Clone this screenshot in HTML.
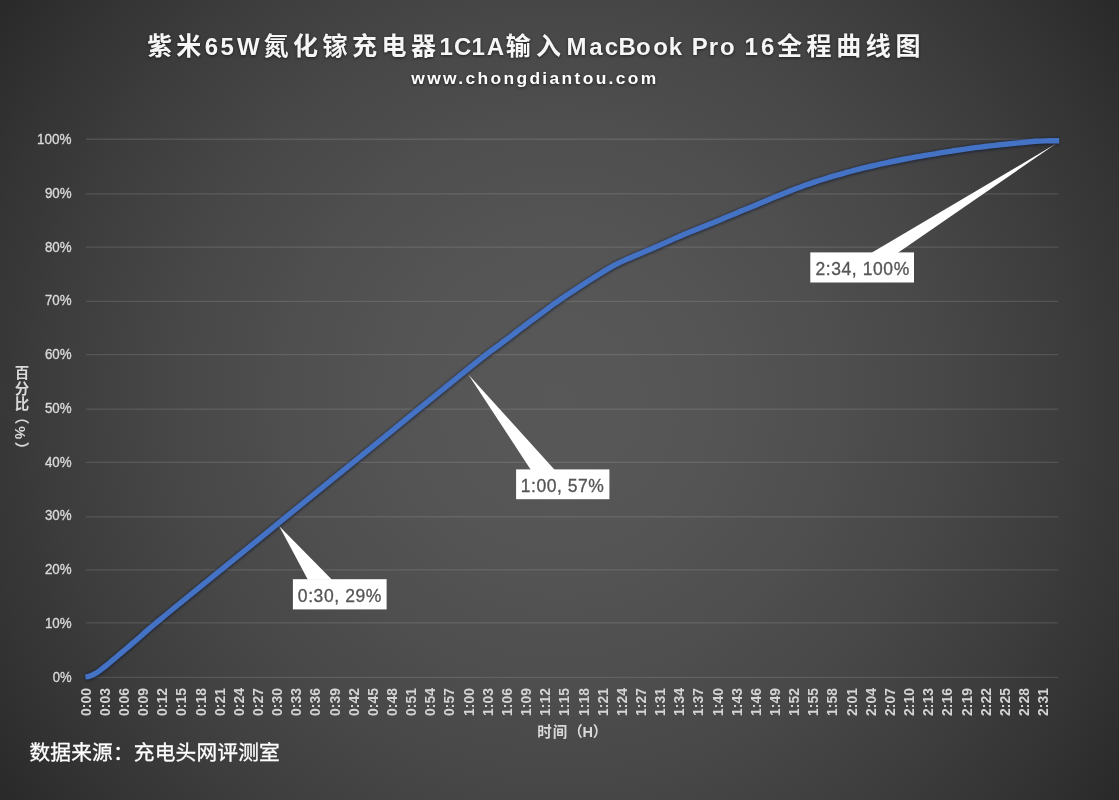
<!DOCTYPE html>
<html lang="zh-CN"><head><meta charset="utf-8">
<title>紫米65W氮化镓充电器1C1A输入MacBook Pro 16全程曲线图</title>
<style>
html,body{margin:0;padding:0;background:#292929;}
body{width:1119px;height:800px;overflow:hidden;position:relative;font-family:"Liberation Sans","Noto Sans CJK SC",sans-serif;}
#chart{position:absolute;left:0;top:0;width:1119px;height:800px;overflow:hidden;background:radial-gradient(circle 688px at 559.5px 400px, #585858 0%, #575757 5%, #575757 10%, #565656 15%, #555555 20%, #545454 25%, #525252 30%, #505050 35%, #4f4f4f 40%, #4c4c4c 45%, #4a4a4a 50%, #484848 55%, #454545 60%, #424242 65%, #3f3f3f 70%, #3c3c3c 75%, #383838 80%, #353535 85%, #313131 90%, #2d2d2d 95%, #292929 100%);}
svg{position:absolute;left:0;top:0;display:block;}
text{font-family:"Liberation Sans","Noto Sans CJK SC",sans-serif;white-space:pre;}
.grid line{stroke:#f2f2f2;stroke-opacity:0.13;stroke-width:1.3;}
.ylab text{fill:#d9d9d9;stroke:#d9d9d9;stroke-width:0.35px;font-size:14.3px;text-anchor:end;}
.xlab text{fill:#d4d4d4;font-size:14.4px;font-weight:bold;}
.axt{fill:#d9d9d9;font-weight:bold;font-size:14.5px;}
.title{fill:#f6f6f6;font-weight:bold;}
.title .c{font-size:25px;}
.title .l{font-size:24px;}
.sub{fill:#fff;font-weight:bold;font-size:17.4px;letter-spacing:2.35px;}
.sh{filter:drop-shadow(0px 1.6px 1.4px rgba(0,0,0,0.55));}
.halo{fill:none;stroke:#0a1430;stroke-opacity:0.5;stroke-width:7.6;stroke-linejoin:round;filter:blur(1.0px);}
.ln{fill:none;stroke:#4472c4;stroke-width:5.4;stroke-linejoin:round;stroke-linecap:butt;}
.co rect,.co polygon{fill:#fff;}
.co text{fill:#545454;stroke:#545454;stroke-width:0.3px;font-size:17.5px;}
.src{fill:#fff;stroke:#fff;stroke-width:0.3px;font-size:20.7px;letter-spacing:0.18px;}
.yt{writing-mode:vertical-rl;text-orientation:mixed;fill:#d9d9d9;font-weight:bold;font-size:14.5px;letter-spacing:1.2px;}
</style></head><body>
<div id="chart">
<svg width="1119" height="800" viewBox="0 0 1119 800">
<g class="grid">
<line x1="86.0" y1="677.40" x2="1058.3" y2="677.40"/>
<line x1="86.0" y1="622.95" x2="1058.3" y2="622.95"/>
<line x1="86.0" y1="569.95" x2="1058.3" y2="569.95"/>
<line x1="86.0" y1="516.80" x2="1058.3" y2="516.80"/>
<line x1="86.0" y1="462.40" x2="1058.3" y2="462.40"/>
<line x1="86.0" y1="409.05" x2="1058.3" y2="409.05"/>
<line x1="86.0" y1="354.70" x2="1058.3" y2="354.70"/>
<line x1="86.0" y1="301.40" x2="1058.3" y2="301.40"/>
<line x1="86.0" y1="247.10" x2="1058.3" y2="247.10"/>
<line x1="86.0" y1="193.80" x2="1058.3" y2="193.80"/>
<line x1="86.0" y1="139.25" x2="1058.3" y2="139.25"/>
</g>
<g class="ylab">
<text x="71.6" y="681.6" textLength="18.9" lengthAdjust="spacingAndGlyphs">0%</text>
<text x="71.6" y="627.9" textLength="26.7" lengthAdjust="spacingAndGlyphs">10%</text>
<text x="71.6" y="574.1" textLength="26.7" lengthAdjust="spacingAndGlyphs">20%</text>
<text x="71.6" y="520.4" textLength="26.7" lengthAdjust="spacingAndGlyphs">30%</text>
<text x="71.6" y="466.6" textLength="26.7" lengthAdjust="spacingAndGlyphs">40%</text>
<text x="71.6" y="412.9" textLength="26.7" lengthAdjust="spacingAndGlyphs">50%</text>
<text x="71.6" y="359.1" textLength="26.7" lengthAdjust="spacingAndGlyphs">60%</text>
<text x="71.6" y="305.4" textLength="26.7" lengthAdjust="spacingAndGlyphs">70%</text>
<text x="71.6" y="251.6" textLength="26.7" lengthAdjust="spacingAndGlyphs">80%</text>
<text x="71.6" y="197.9" textLength="26.7" lengthAdjust="spacingAndGlyphs">90%</text>
<text x="71.6" y="144.1" textLength="34.5" lengthAdjust="spacingAndGlyphs">100%</text>
</g>
<g class="xlab">
<text transform="translate(90.60 715.9) rotate(-90)" textLength="27.8" lengthAdjust="spacingAndGlyphs">0:00</text>
<text transform="translate(109.75 715.9) rotate(-90)" textLength="27.8" lengthAdjust="spacingAndGlyphs">0:03</text>
<text transform="translate(128.90 715.9) rotate(-90)" textLength="27.8" lengthAdjust="spacingAndGlyphs">0:06</text>
<text transform="translate(148.05 715.9) rotate(-90)" textLength="27.8" lengthAdjust="spacingAndGlyphs">0:09</text>
<text transform="translate(167.20 715.9) rotate(-90)" textLength="27.8" lengthAdjust="spacingAndGlyphs">0:12</text>
<text transform="translate(186.35 715.9) rotate(-90)" textLength="27.8" lengthAdjust="spacingAndGlyphs">0:15</text>
<text transform="translate(205.50 715.9) rotate(-90)" textLength="27.8" lengthAdjust="spacingAndGlyphs">0:18</text>
<text transform="translate(224.65 715.9) rotate(-90)" textLength="27.8" lengthAdjust="spacingAndGlyphs">0:21</text>
<text transform="translate(243.80 715.9) rotate(-90)" textLength="27.8" lengthAdjust="spacingAndGlyphs">0:24</text>
<text transform="translate(262.95 715.9) rotate(-90)" textLength="27.8" lengthAdjust="spacingAndGlyphs">0:27</text>
<text transform="translate(282.10 715.9) rotate(-90)" textLength="27.8" lengthAdjust="spacingAndGlyphs">0:30</text>
<text transform="translate(301.25 715.9) rotate(-90)" textLength="27.8" lengthAdjust="spacingAndGlyphs">0:33</text>
<text transform="translate(320.40 715.9) rotate(-90)" textLength="27.8" lengthAdjust="spacingAndGlyphs">0:36</text>
<text transform="translate(339.55 715.9) rotate(-90)" textLength="27.8" lengthAdjust="spacingAndGlyphs">0:39</text>
<text transform="translate(358.70 715.9) rotate(-90)" textLength="27.8" lengthAdjust="spacingAndGlyphs">0:42</text>
<text transform="translate(377.85 715.9) rotate(-90)" textLength="27.8" lengthAdjust="spacingAndGlyphs">0:45</text>
<text transform="translate(397.00 715.9) rotate(-90)" textLength="27.8" lengthAdjust="spacingAndGlyphs">0:48</text>
<text transform="translate(416.15 715.9) rotate(-90)" textLength="27.8" lengthAdjust="spacingAndGlyphs">0:51</text>
<text transform="translate(435.30 715.9) rotate(-90)" textLength="27.8" lengthAdjust="spacingAndGlyphs">0:54</text>
<text transform="translate(454.45 715.9) rotate(-90)" textLength="27.8" lengthAdjust="spacingAndGlyphs">0:57</text>
<text transform="translate(473.60 715.9) rotate(-90)" textLength="27.8" lengthAdjust="spacingAndGlyphs">1:00</text>
<text transform="translate(492.75 715.9) rotate(-90)" textLength="27.8" lengthAdjust="spacingAndGlyphs">1:03</text>
<text transform="translate(511.90 715.9) rotate(-90)" textLength="27.8" lengthAdjust="spacingAndGlyphs">1:06</text>
<text transform="translate(531.05 715.9) rotate(-90)" textLength="27.8" lengthAdjust="spacingAndGlyphs">1:09</text>
<text transform="translate(550.20 715.9) rotate(-90)" textLength="27.8" lengthAdjust="spacingAndGlyphs">1:12</text>
<text transform="translate(569.35 715.9) rotate(-90)" textLength="27.8" lengthAdjust="spacingAndGlyphs">1:15</text>
<text transform="translate(588.50 715.9) rotate(-90)" textLength="27.8" lengthAdjust="spacingAndGlyphs">1:18</text>
<text transform="translate(607.65 715.9) rotate(-90)" textLength="27.8" lengthAdjust="spacingAndGlyphs">1:21</text>
<text transform="translate(626.80 715.9) rotate(-90)" textLength="27.8" lengthAdjust="spacingAndGlyphs">1:24</text>
<text transform="translate(645.95 715.9) rotate(-90)" textLength="27.8" lengthAdjust="spacingAndGlyphs">1:27</text>
<text transform="translate(665.10 715.9) rotate(-90)" textLength="27.8" lengthAdjust="spacingAndGlyphs">1:31</text>
<text transform="translate(684.25 715.9) rotate(-90)" textLength="27.8" lengthAdjust="spacingAndGlyphs">1:34</text>
<text transform="translate(703.40 715.9) rotate(-90)" textLength="27.8" lengthAdjust="spacingAndGlyphs">1:37</text>
<text transform="translate(722.55 715.9) rotate(-90)" textLength="27.8" lengthAdjust="spacingAndGlyphs">1:40</text>
<text transform="translate(741.70 715.9) rotate(-90)" textLength="27.8" lengthAdjust="spacingAndGlyphs">1:43</text>
<text transform="translate(760.85 715.9) rotate(-90)" textLength="27.8" lengthAdjust="spacingAndGlyphs">1:46</text>
<text transform="translate(780.00 715.9) rotate(-90)" textLength="27.8" lengthAdjust="spacingAndGlyphs">1:49</text>
<text transform="translate(799.15 715.9) rotate(-90)" textLength="27.8" lengthAdjust="spacingAndGlyphs">1:52</text>
<text transform="translate(818.30 715.9) rotate(-90)" textLength="27.8" lengthAdjust="spacingAndGlyphs">1:55</text>
<text transform="translate(837.45 715.9) rotate(-90)" textLength="27.8" lengthAdjust="spacingAndGlyphs">1:58</text>
<text transform="translate(856.60 715.9) rotate(-90)" textLength="27.8" lengthAdjust="spacingAndGlyphs">2:01</text>
<text transform="translate(875.75 715.9) rotate(-90)" textLength="27.8" lengthAdjust="spacingAndGlyphs">2:04</text>
<text transform="translate(894.90 715.9) rotate(-90)" textLength="27.8" lengthAdjust="spacingAndGlyphs">2:07</text>
<text transform="translate(914.05 715.9) rotate(-90)" textLength="27.8" lengthAdjust="spacingAndGlyphs">2:10</text>
<text transform="translate(933.20 715.9) rotate(-90)" textLength="27.8" lengthAdjust="spacingAndGlyphs">2:13</text>
<text transform="translate(952.35 715.9) rotate(-90)" textLength="27.8" lengthAdjust="spacingAndGlyphs">2:16</text>
<text transform="translate(971.50 715.9) rotate(-90)" textLength="27.8" lengthAdjust="spacingAndGlyphs">2:19</text>
<text transform="translate(990.65 715.9) rotate(-90)" textLength="27.8" lengthAdjust="spacingAndGlyphs">2:22</text>
<text transform="translate(1009.80 715.9) rotate(-90)" textLength="27.8" lengthAdjust="spacingAndGlyphs">2:25</text>
<text transform="translate(1028.95 715.9) rotate(-90)" textLength="27.8" lengthAdjust="spacingAndGlyphs">2:28</text>
<text transform="translate(1048.10 715.9) rotate(-90)" textLength="27.8" lengthAdjust="spacingAndGlyphs">2:31</text>
</g>
<path class="halo" transform="translate(0 0.6)" d="M85.4 676.9 L88.0 676.6 L91.0 675.6 L94.0 674.2 L97.0 672.6 L101.0 669.6 L105.0 666.5 L109.0 663.3 L113.0 659.9 L117.0 656.5 L121.0 653.2 L125.0 649.8 L129.0 646.4 L133.0 642.9 L137.0 639.5 L141.0 635.9 L145.0 632.4 L149.0 628.9 L153.0 625.5 L157.0 622.1 L161.0 618.8 L165.0 615.5 L195.5 590.6 L226.0 565.9 L256.5 541.1 L287.0 516.2 L317.5 491.4 L348.0 466.6 L378.5 441.8 L409.0 416.9 L439.5 392.1 L470.0 367.3 L475.0 363.3 L480.0 359.4 L485.0 355.5 L490.0 351.7 L495.0 348.0 L500.0 344.3 L505.0 340.5 L510.0 336.8 L515.0 333.0 L520.0 329.2 L525.0 325.5 L530.0 321.7 L535.0 318.0 L540.0 314.3 L545.0 310.6 L550.0 306.9 L555.0 303.2 L560.0 299.7 L565.0 296.3 L570.0 293.0 L575.0 289.8 L580.0 286.5 L585.0 283.2 L590.0 280.0 L595.0 276.9 L600.0 273.7 L605.0 270.6 L610.0 267.6 L615.0 264.9 L620.0 262.4 L625.0 260.1 L630.0 258.0 L635.0 255.8 L640.0 253.7 L645.0 251.5 L650.0 249.4 L655.0 247.3 L660.0 245.1 L665.0 242.9 L670.0 240.6 L675.0 238.4 L680.0 236.2 L685.0 234.1 L690.0 232.0 L695.0 230.0 L700.0 228.0 L705.0 226.0 L710.0 224.0 L715.0 221.9 L720.0 219.9 L725.0 217.8 L730.0 215.8 L735.0 213.7 L740.0 211.6 L745.0 209.6 L750.0 207.5 L755.0 205.4 L760.0 203.3 L765.0 201.2 L770.0 199.0 L775.0 196.9 L780.0 194.9 L785.0 192.9 L790.0 191.0 L795.0 189.1 L800.0 187.2 L805.0 185.3 L810.0 183.6 L815.0 181.9 L820.0 180.3 L825.0 178.7 L830.0 177.2 L835.0 175.7 L840.0 174.3 L845.0 172.9 L850.0 171.5 L855.0 170.2 L860.0 168.9 L865.0 167.7 L870.0 166.5 L875.0 165.3 L880.0 164.2 L885.0 163.1 L890.0 162.0 L895.0 161.0 L900.0 160.0 L905.0 159.0 L910.0 158.1 L915.0 157.2 L920.0 156.3 L925.0 155.4 L930.0 154.6 L935.0 153.8 L940.0 152.9 L945.0 152.1 L950.0 151.3 L955.0 150.5 L960.0 149.8 L965.0 149.1 L970.0 148.4 L975.0 147.7 L980.0 147.1 L985.0 146.5 L990.0 145.9 L995.0 145.4 L1000.0 144.8 L1005.0 144.3 L1010.0 143.8 L1015.0 143.2 L1020.0 142.7 L1025.0 142.2 L1030.0 141.7 L1035.0 141.3 L1040.0 141.1 L1045.0 140.9 L1050.0 140.8 L1055.0 140.8 L1059.2 140.8"/>
<path class="ln" d="M85.4 676.9 L88.0 676.6 L91.0 675.6 L94.0 674.2 L97.0 672.6 L101.0 669.6 L105.0 666.5 L109.0 663.3 L113.0 659.9 L117.0 656.5 L121.0 653.2 L125.0 649.8 L129.0 646.4 L133.0 642.9 L137.0 639.5 L141.0 635.9 L145.0 632.4 L149.0 628.9 L153.0 625.5 L157.0 622.1 L161.0 618.8 L165.0 615.5 L195.5 590.6 L226.0 565.9 L256.5 541.1 L287.0 516.2 L317.5 491.4 L348.0 466.6 L378.5 441.8 L409.0 416.9 L439.5 392.1 L470.0 367.3 L475.0 363.3 L480.0 359.4 L485.0 355.5 L490.0 351.7 L495.0 348.0 L500.0 344.3 L505.0 340.5 L510.0 336.8 L515.0 333.0 L520.0 329.2 L525.0 325.5 L530.0 321.7 L535.0 318.0 L540.0 314.3 L545.0 310.6 L550.0 306.9 L555.0 303.2 L560.0 299.7 L565.0 296.3 L570.0 293.0 L575.0 289.8 L580.0 286.5 L585.0 283.2 L590.0 280.0 L595.0 276.9 L600.0 273.7 L605.0 270.6 L610.0 267.6 L615.0 264.9 L620.0 262.4 L625.0 260.1 L630.0 258.0 L635.0 255.8 L640.0 253.7 L645.0 251.5 L650.0 249.4 L655.0 247.3 L660.0 245.1 L665.0 242.9 L670.0 240.6 L675.0 238.4 L680.0 236.2 L685.0 234.1 L690.0 232.0 L695.0 230.0 L700.0 228.0 L705.0 226.0 L710.0 224.0 L715.0 221.9 L720.0 219.9 L725.0 217.8 L730.0 215.8 L735.0 213.7 L740.0 211.6 L745.0 209.6 L750.0 207.5 L755.0 205.4 L760.0 203.3 L765.0 201.2 L770.0 199.0 L775.0 196.9 L780.0 194.9 L785.0 192.9 L790.0 191.0 L795.0 189.1 L800.0 187.2 L805.0 185.3 L810.0 183.6 L815.0 181.9 L820.0 180.3 L825.0 178.7 L830.0 177.2 L835.0 175.7 L840.0 174.3 L845.0 172.9 L850.0 171.5 L855.0 170.2 L860.0 168.9 L865.0 167.7 L870.0 166.5 L875.0 165.3 L880.0 164.2 L885.0 163.1 L890.0 162.0 L895.0 161.0 L900.0 160.0 L905.0 159.0 L910.0 158.1 L915.0 157.2 L920.0 156.3 L925.0 155.4 L930.0 154.6 L935.0 153.8 L940.0 152.9 L945.0 152.1 L950.0 151.3 L955.0 150.5 L960.0 149.8 L965.0 149.1 L970.0 148.4 L975.0 147.7 L980.0 147.1 L985.0 146.5 L990.0 145.9 L995.0 145.4 L1000.0 144.8 L1005.0 144.3 L1010.0 143.8 L1015.0 143.2 L1020.0 142.7 L1025.0 142.2 L1030.0 141.7 L1035.0 141.3 L1040.0 141.1 L1045.0 140.9 L1050.0 140.8 L1055.0 140.8 L1059.2 140.8"/>
<g class="co">
<polygon points="307.9,579.7 279.3,526.3 332.0,579.7"/>
<rect x="292.9" y="579.2" width="93.7" height="30.2"/>
<text x="297.85" y="601.5" style="letter-spacing:0.59px">0:30, 29%</text>
</g>
<g class="co">
<polygon points="530.9,469.9 468.3,374.4 554.8,469.9"/>
<rect x="516.1" y="469.4" width="93.3" height="29.8"/>
<text x="520.75" y="491.5" style="letter-spacing:0.53px">1:00, 57%</text>
</g>
<g class="co">
<polygon points="871.2,252.9 1056.3,143.6 897.6,252.9"/>
<rect x="810.3" y="252.4" width="103.7" height="30.1"/>
<text x="815.45" y="274.7" style="letter-spacing:0.58px">2:34, 100%</text>
</g>
<g class="sh">
<text class="title" y="54.5"><tspan class="c" x="147.25" y="55.2" style="letter-spacing:4.05px">紫米</tspan><tspan class="l" x="204.72 220.55 236.98" y="54.5">65W</tspan><tspan class="c" x="263.45" y="55.2" style="letter-spacing:4.53px">氮化镓充电器</tspan><tspan class="l" x="439.38 453.92 471.38 486.68" y="54.5">1C1A</tspan><tspan class="c" x="505.85" y="55.2" style="letter-spacing:5.25px">输入</tspan><tspan class="l" x="566.45 589.33 604.75 618.52 636.02 653.17 668.80" y="54.5">MacBook </tspan><tspan class="l" x="691.72 708.85 719.98" y="54.5">Pro </tspan><tspan class="l" x="744.48 761.08" y="54.5">16</tspan><tspan class="c" x="777.00" y="55.2" style="letter-spacing:4.61px">全程曲线图</tspan></text>
<text class="sub" x="411.3" y="83.9">www.chongdiantou.com</text>
</g>
<text class="axt" x="537.3" y="737.3"><tspan style="letter-spacing:1px">时间</tspan><tspan style="letter-spacing:-0.29px">（H</tspan>）</text>
<text class="src" x="29.5" y="760.2">数据来源：充电头网评测室</text>
<text class="yt" x="20.4" y="365.3">百分比<tspan dy="-3">（</tspan><tspan dy="1">%</tspan><tspan dy="1.5">）</tspan></text>
</svg>
</div>
</body></html>
